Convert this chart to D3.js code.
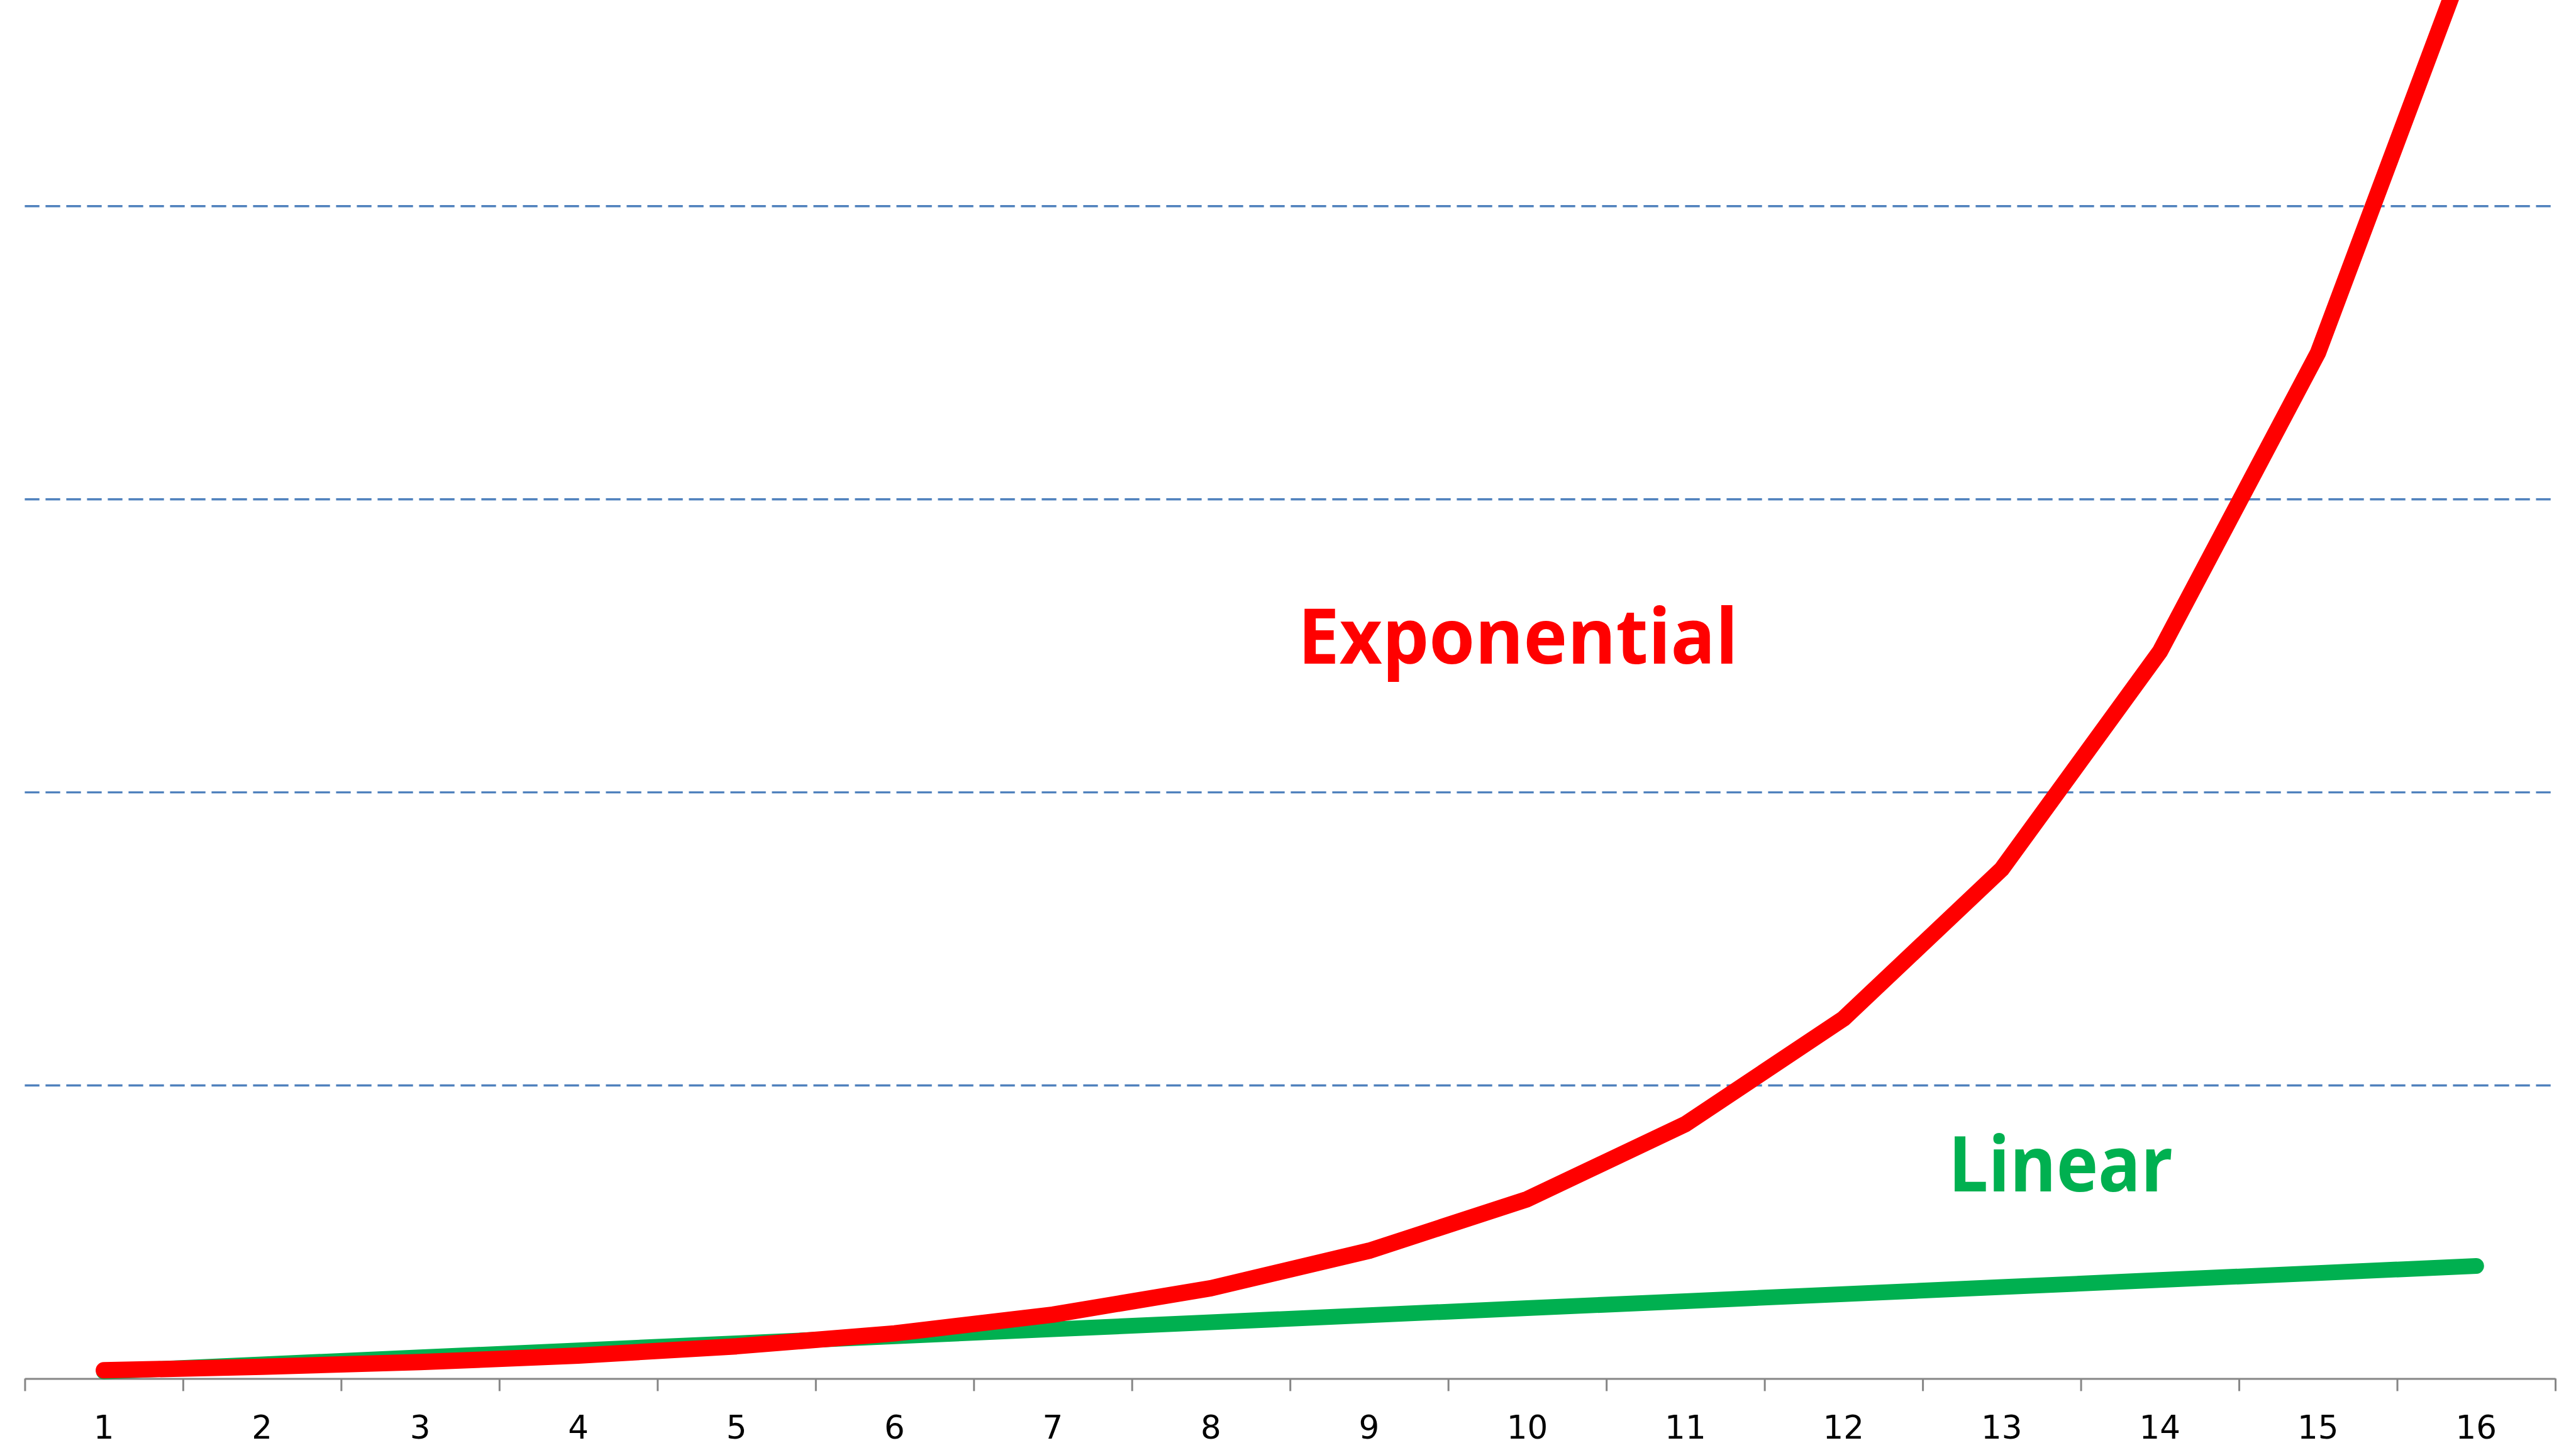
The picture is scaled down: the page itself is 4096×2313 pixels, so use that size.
<!DOCTYPE html>
<html>
<head>
<meta charset="utf-8">
<script src="https://cdn.jsdelivr.net/npm/d3@7"></script>
<style>
  html, body { margin: 0; padding: 0; background: #ffffff; }
  svg { display: block; }
</style>
</head>
<body>
<script>
// ---- data ----
const categories = ["1","2","3","4","5","6","7","8","9","10","11","12","13","14","15","16"];
const exponential = [1.4, 2.0, 2.8, 3.9, 5.5, 7.7, 10.9, 15.4, 21.8, 30.6, 43.4, 61.4, 86.9, 124, 175, 247];
const linear = [1.2, 2.4, 3.6, 4.8, 6.0, 7.2, 8.4, 9.6, 10.8, 12.0, 13.2, 14.4, 15.6, 16.8, 18.0, 19.2];
const gridValues = [50, 100, 150, 200];
const seriesLabels = ["Exponential", "Linear"];

// ---- layout ----
const W = 4096, H = 2313;
const left = 39.4, right = 4063, baseY = 2191.4, pxPerUnit = 9.318;

const svg = d3.select("body").append("svg")
  .attr("width", W).attr("height", H)
  .attr("viewBox", `0 0 ${W} ${H}`);
svg.append("rect").attr("width", W).attr("height", H).attr("fill", "#ffffff");

const x = d3.scaleBand().domain(categories).range([left, right]).padding(0);
const xEdge = d3.scaleLinear().domain([0, categories.length]).range([left, right]);
const y = d3.scaleLinear().domain([0, 250]).range([baseY, baseY - 250 * pxPerUnit]);

// gridlines
svg.append("g").selectAll("line").data(gridValues).join("line")
  .attr("x1", left).attr("x2", right)
  .attr("y1", d => y(d)).attr("y2", d => y(d))
  .attr("stroke", "#4F81BD").attr("stroke-width", 3.4)
  .attr("stroke-dasharray", "23.3,9.7");

// axis with ticks at category boundaries
const axisEdge = svg.append("g").attr("transform", `translate(0,${baseY})`)
  .call(d3.axisBottom(xEdge).tickValues(d3.range(categories.length + 1))
    .tickSize(20).tickSizeOuter(0).tickFormat(""));
axisEdge.selectAll("path, line").attr("stroke", "#868686").attr("stroke-width", 3);

// category labels
const axisLab = svg.append("g").attr("transform", `translate(0,${baseY})`)
  .call(d3.axisBottom(x).tickSize(0));
axisLab.select(".domain").remove();
axisLab.selectAll("text")
  .attr("y", 95.6).attr("dy", null)
  .attr("font-family", "DejaVu Sans").attr("font-size", 51.5)
  .attr("fill", "#000000");

// lines
const lineGen = d3.line()
  .x((d, i) => x(categories[i]) + x.bandwidth() / 2)
  .y(d => y(d));

svg.append("path").datum(linear)
  .attr("d", lineGen).attr("fill", "none")
  .attr("stroke", "#00B050").attr("stroke-width", 25)
  .attr("stroke-linejoin", "round").attr("stroke-linecap", "round");

svg.append("path").datum(exponential)
  .attr("d", lineGen).attr("fill", "none")
  .attr("stroke", "#FF0000").attr("stroke-width", 26)
  .attr("stroke-linejoin", "round").attr("stroke-linecap", "round");

// series labels
svg.append("text").text(seriesLabels[0])
  .attr("x", 2063.7).attr("y", 1054.7)
  .attr("font-family", "Open Sans").attr("font-weight", "bold")
  .attr("font-size", 122).attr("fill", "#FF0000")
  .attr("textLength", 700).attr("lengthAdjust", "spacingAndGlyphs");

svg.append("text").text(seriesLabels[1])
  .attr("x", 3098).attr("y", 1894.3)
  .attr("font-family", "Open Sans").attr("font-weight", "bold")
  .attr("font-size", 122).attr("fill", "#00B050")
  .attr("textLength", 357).attr("lengthAdjust", "spacingAndGlyphs");
</script>
</body>
</html>
